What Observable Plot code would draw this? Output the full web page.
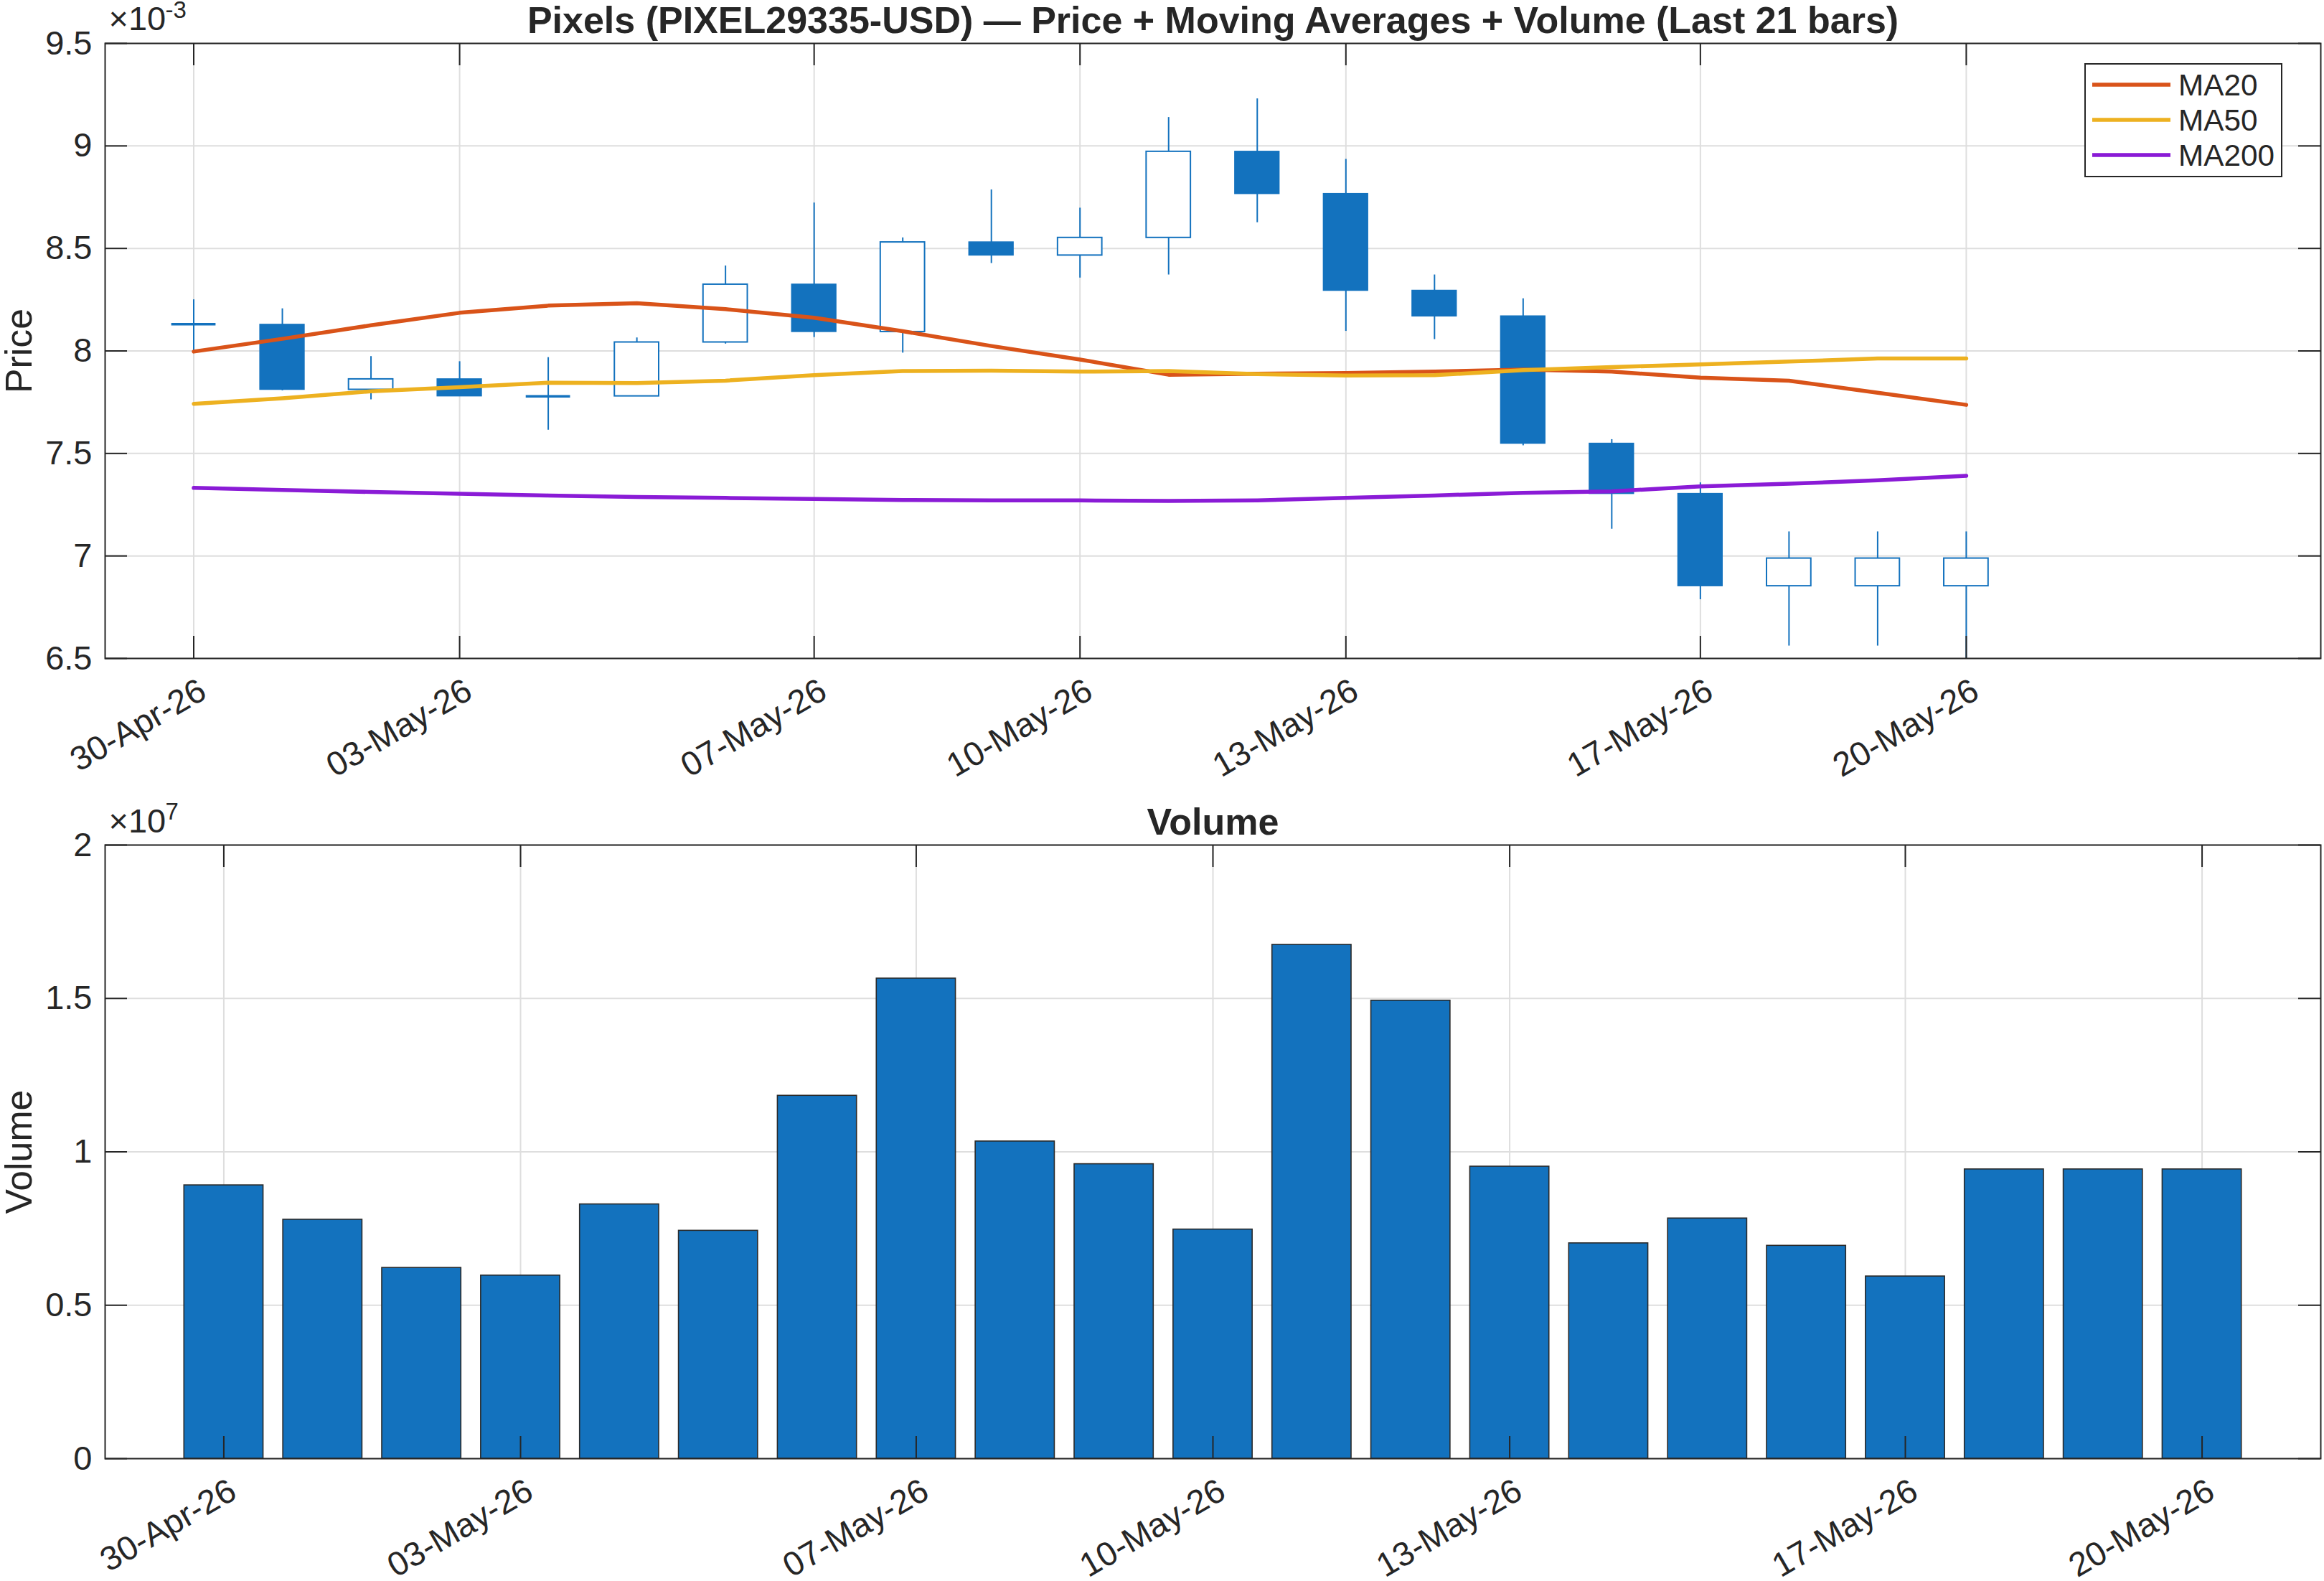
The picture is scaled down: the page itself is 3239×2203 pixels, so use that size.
<!DOCTYPE html>
<html>
<head>
<meta charset="utf-8">
<script src="https://cdn.jsdelivr.net/npm/d3@7"></script>
<script src="https://cdn.jsdelivr.net/npm/@observablehq/plot@0.6"></script>
<style>
  body { margin: 0; background: #ffffff; }
  #wrap { position: relative; width: 3239px; height: 2203px; background: #ffffff; }
  #wrap > svg { display: block; }
  #legend { position: absolute; left: 2905px; top: 88px; }
</style>
</head>
<body>
<div id="wrap"></div>
<script>
// ---------------- data ----------------
const dates = ["30-Apr-26","01-May-26","02-May-26","03-May-26","04-May-26","05-May-26","06-May-26",
  "07-May-26","08-May-26","09-May-26","10-May-26","11-May-26","12-May-26","13-May-26","14-May-26",
  "15-May-26","16-May-26","17-May-26","18-May-26","19-May-26","20-May-26"];

// prices in units of 1e-3 USD
const openP  = [8.130, 8.128, 7.811, 7.862, 7.779, 7.779, 8.042, 8.324, 8.093, 8.530, 8.466,
                8.552, 8.972, 8.766, 8.294, 8.169, 7.548, 7.303, 6.853, 6.853, 6.853];
const highP  = [8.250, 8.206, 7.973, 7.948, 7.968, 8.064, 8.415, 8.722, 8.552, 8.786, 8.697,
                9.139, 9.230, 8.935, 8.371, 8.255, 7.568, 7.357, 7.118, 7.118, 7.118];
const lowP   = [7.997, 7.806, 7.762, 7.779, 7.614, 7.779, 8.034, 8.066, 7.990, 8.427, 8.356,
                8.371, 8.626, 8.096, 8.056, 7.538, 7.131, 6.787, 6.561, 6.561, 6.450];
const closeP = [8.130, 7.811, 7.862, 7.779, 7.779, 8.042, 8.324, 8.093, 8.530, 8.466, 8.552,
                8.972, 8.766, 8.294, 8.169, 7.548, 7.303, 6.853, 6.988, 6.988, 6.988];

const ma20  = [7.997, 8.059, 8.125, 8.186, 8.221, 8.233, 8.204, 8.162, 8.096, 8.024, 7.958,
               7.884, 7.889, 7.892, 7.899, 7.909, 7.899, 7.870, 7.855, 7.796, 7.737];
const ma50  = [7.742, 7.769, 7.803, 7.823, 7.845, 7.843, 7.855, 7.882, 7.902, 7.904, 7.899,
               7.902, 7.887, 7.880, 7.882, 7.906, 7.921, 7.934, 7.948, 7.963, 7.963];
const ma200 = [7.332, 7.322, 7.312, 7.303, 7.295, 7.288, 7.283, 7.278, 7.273, 7.271, 7.271,
               7.268, 7.271, 7.283, 7.295, 7.308, 7.315, 7.339, 7.352, 7.369, 7.391];

// volume in units of 1e7
const volume = [0.891, 0.779, 0.622, 0.597, 0.829, 0.743, 1.183, 1.565, 1.034, 0.960, 0.747,
                1.675, 1.493, 0.952, 0.702, 0.783, 0.694, 0.594, 0.943, 0.943, 0.943];

const xTickLabels = ["30-Apr-26","03-May-26","07-May-26","10-May-26","13-May-26","17-May-26","20-May-26"];
const priceTicks  = [6.5, 7, 7.5, 8, 8.5, 9, 9.5];     // x 1e-3
const volumeTicks = [0, 0.5, 1, 1.5, 2];              // x 1e7

const maNames  = ["MA20", "MA50", "MA200"];
const maColors = ["#d95319", "#edb120", "#8a1bd6"];

const titleTop = "Pixels (PIXEL29335-USD) \u2014 Price + Moving Averages + Volume (Last 21 bars)";
const titleBottom = "Volume";

// ---------------- tables ----------------
const bars = dates.map((d, i) => ({
  i, date: d,
  open: openP[i] * 1e-3, high: highP[i] * 1e-3, low: lowP[i] * 1e-3, close: closeP[i] * 1e-3,
  ma20: ma20[i] * 1e-3, ma50: ma50[i] * 1e-3, ma200: ma200[i] * 1e-3,
  vol: volume[i] * 1e7
}));
const xTicks = xTickLabels.map(l => dates.indexOf(l));
const pTicks = priceTicks.map(v => v * 1e-3);
const vTicks = volumeTicks.map(v => v * 1e7);
const maKeys = ["ma20", "ma50", "ma200"];

// ---------------- style ----------------
const W = 3239;
const FONT = '"Liberation Sans", Arial, Helvetica, sans-serif';
const INK = "#262626";
const GRID = "#dedede";
const BLUE = "#1372be";
const TICK_FS = 47, LABEL_FS = 51.8, TITLE_FS = 52, LEG_FS = 42.3;
const MA_W = 5.5;
const mL = 146, mR = 5;
const frameW = W - mL - mR;
const TL = 31; // tick length (inside)

const H1 = 1100, mT1 = 60, mB1 = 183;
const H2 = 1103, mT2 = 77, mB2 = 171;
const fH1 = H1 - mT1 - mB1, fH2 = H2 - mT2 - mB2;

function frameDecor(yTicks, fH, fmt) {
  return [
    Plot.frame({stroke: INK, strokeWidth: 2}),
    Plot.ruleX(xTicks, {x: d => d, insetBottom: fH - TL, stroke: INK, strokeWidth: 2}),
    Plot.ruleX(xTicks, {x: d => d, insetTop: fH - TL, stroke: INK, strokeWidth: 2}),
    Plot.ruleY(yTicks, {y: d => d, insetRight: frameW - TL, stroke: INK, strokeWidth: 2}),
    Plot.ruleY(yTicks, {y: d => d, insetLeft: frameW - TL, stroke: INK, strokeWidth: 2}),
    Plot.axisY(yTicks, {tickSize: 0, tickPadding: 18, tickFormat: fmt, fontSize: TICK_FS,
      fill: INK, label: null}),
    Plot.text(xTicks, {x: d => d, frameAnchor: "bottom", text: d => dates[d], rotate: -30,
      textAnchor: "end", lineAnchor: "top", dx: 4, dy: 25, fontSize: TICK_FS, fill: INK})
  ];
}

const fmtPrice = d => String(Math.round(d * 1e4) / 10);
const fmtVol = d => String(Math.round(d / 1e6) / 10);

// ---------------- top: price ----------------
const up = bars.filter(d => d.close > d.open);
const down = bars.filter(d => d.close < d.open);
const doji = bars.filter(d => d.close === d.open);

const topPlot = Plot.plot({
  width: W, height: H1,
  marginLeft: mL, marginRight: mR, marginTop: mT1, marginBottom: mB1,
  style: {fontFamily: FONT, background: "#ffffff", overflow: "visible"},
  x: {type: "linear", domain: [-1, 24], axis: null},
  y: {domain: [6.5e-3, 9.5e-3]},
  marks: [
    Plot.ruleX(xTicks, {x: d => d, stroke: GRID, strokeWidth: 2}),
    Plot.ruleY(pTicks, {y: d => d, stroke: GRID, strokeWidth: 2}),
    Plot.ruleX(bars, {x: "i", y1: "low", y2: "high", stroke: BLUE, strokeWidth: 2, clip: true}),
    Plot.rect(up, {x1: d => d.i - 0.25, x2: d => d.i + 0.25, y1: "open", y2: "close",
      fill: "#ffffff", stroke: BLUE, strokeWidth: 2}),
    Plot.rect(down, {x1: d => d.i - 0.25, x2: d => d.i + 0.25, y1: "close", y2: "open",
      fill: BLUE, stroke: BLUE, strokeWidth: 1.5}),
    Plot.ruleY(doji, {x1: d => d.i - 0.25, x2: d => d.i + 0.25, y: "open",
      stroke: BLUE, strokeWidth: 3.5}),
    ...maKeys.map((k, j) => Plot.line(bars, {x: "i", y: k, stroke: maColors[j], strokeWidth: MA_W})),
    ...frameDecor(pTicks, fH1, fmtPrice),
    Plot.text([titleTop], {text: d => d, frameAnchor: "top", textAnchor: "middle", dy: -31,
      lineAnchor: "middle", fontSize: TITLE_FS, fontWeight: "bold", fill: INK}),
    Plot.text(["Price"], {text: d => d, frameAnchor: "left", textAnchor: "middle", rotate: -90,
      dx: -119, lineAnchor: "middle", fontSize: LABEL_FS, fill: INK}),
    Plot.text(["\u00d710"], {text: d => d, frameAnchor: "top-left", textAnchor: "start",
      lineAnchor: "middle", dx: 5, dy: -34, fontSize: TICK_FS, fill: INK}),
    Plot.text(["-3"], {text: d => d, frameAnchor: "top-left", textAnchor: "start",
      lineAnchor: "middle", dx: 84, dy: -46, fontSize: 33, fill: INK})
  ]
});

// ---------------- bottom: volume ----------------
const botPlot = Plot.plot({
  width: W, height: H2,
  marginLeft: mL, marginRight: mR, marginTop: mT2, marginBottom: mB2,
  style: {fontFamily: FONT, background: "#ffffff", overflow: "visible"},
  x: {type: "linear", domain: [-1.2, 21.2], axis: null},
  y: {domain: [0, 2e7]},
  marks: [
    Plot.ruleX(xTicks, {x: d => d, stroke: GRID, strokeWidth: 2}),
    Plot.ruleY(vTicks, {y: d => d, stroke: GRID, strokeWidth: 2}),
    Plot.rectY(bars, {x1: d => d.i - 0.4, x2: d => d.i + 0.4, y: "vol",
      fill: BLUE, stroke: "#2a2a2a", strokeWidth: 1.6}),
    ...frameDecor(vTicks, fH2, fmtVol),
    Plot.text([titleBottom], {text: d => d, frameAnchor: "top", textAnchor: "middle", dy: -31,
      lineAnchor: "middle", fontSize: TITLE_FS, fontWeight: "bold", fill: INK}),
    Plot.text(["Volume"], {text: d => d, frameAnchor: "left", textAnchor: "middle", rotate: -90,
      dx: -119, lineAnchor: "middle", fontSize: LABEL_FS, fill: INK}),
    Plot.text(["\u00d710"], {text: d => d, frameAnchor: "top-left", textAnchor: "start",
      lineAnchor: "middle", dx: 5, dy: -33, fontSize: TICK_FS, fill: INK}),
    Plot.text(["7"], {text: d => d, frameAnchor: "top-left", textAnchor: "start",
      lineAnchor: "middle", dx: 84, dy: -46, fontSize: 33, fill: INK})
  ]
});

const wrap = document.getElementById("wrap");
wrap.appendChild(topPlot);
wrap.appendChild(botPlot);

// ---------------- legend (HTML/SVG overlay) ----------------
const legW = 276, legH = 159, rowY = [30, 79, 128];
const leg = d3.create("svg").attr("id", "legend").attr("width", legW).attr("height", legH)
  .style("font-family", FONT);
leg.append("rect").attr("x", 1).attr("y", 1).attr("width", legW - 2).attr("height", legH - 2)
  .attr("fill", "#ffffff").attr("stroke", INK).attr("stroke-width", 2);
maNames.forEach((name, j) => {
  leg.append("line").attr("x1", 11).attr("x2", 120).attr("y1", rowY[j]).attr("y2", rowY[j])
    .attr("stroke", maColors[j]).attr("stroke-width", MA_W);
  leg.append("text").attr("x", 131).attr("y", rowY[j]).attr("dy", "0.36em")
    .attr("font-size", LEG_FS).attr("fill", INK).text(name);
});
wrap.appendChild(leg.node());
</script>
</body>
</html>
